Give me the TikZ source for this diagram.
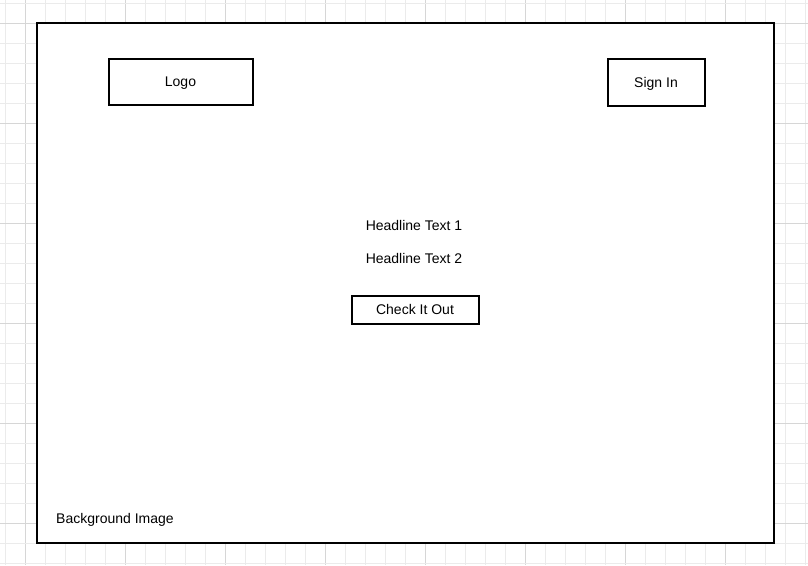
\documentclass[tikz,border=0pt]{standalone}
\usepackage{fontspec}
\setmainfont{Liberation Sans}
\definecolor{gridminor}{HTML}{EBEBEB}
\definecolor{gridmajor}{HTML}{D6D6D6}
\begin{document}
\begin{tikzpicture}[x=1pt,y=-1pt,
  every node/.style={font=\fontsize{14}{16}\selectfont, inner sep=0pt, text depth=0pt},
  boxnode/.style={draw=black, line width=2pt, fill=white, rectangle},
  labelnode/.style={text=black}]
\useasboundingbox (0,0) rectangle (808,565);
\fill[white] (0,0) rectangle (808,565);
% grid
\foreach \k in {0,...,40} {
  \pgfmathsetmacro{\xx}{5.7+20*\k}
  \pgfmathtruncatemacro{\m}{mod(\k,5)}
  \ifnum\m=1
    \draw[gridmajor, line width=1pt] (\xx,0) -- (\xx,565);
  \else
    \draw[gridminor, line width=1pt] (\xx,0) -- (\xx,565);
  \fi
}
\foreach \k in {0,...,28} {
  \pgfmathsetmacro{\yy}{3.5+20*\k}
  \pgfmathtruncatemacro{\m}{mod(\k,5)}
  \ifnum\m=1
    \draw[gridmajor, line width=1pt] (0,\yy) -- (808,\yy);
  \else
    \draw[gridminor, line width=1pt] (0,\yy) -- (808,\yy);
  \fi
}
% frame
\node[boxnode, minimum width=737pt, minimum height=520pt] (frame) at (405,282.5) {};
\node[boxnode, minimum width=144pt, minimum height=46pt] (logo) at (180.5,81.5) {Logo};
\node[boxnode, minimum width=97pt, minimum height=47pt] (signin) at (656,82) {Sign In};
\node[labelnode] (h1) at (414,225) {Headline Text 1};
\node[labelnode] (h2) at (414,258) {Headline Text 2};
\node[boxnode, minimum width=127pt, minimum height=28pt] (check) at (415,309.5) {Check It Out};
\node[labelnode, anchor=west] (bg) at (56,518) {Background Image};
\end{tikzpicture}
\end{document}
